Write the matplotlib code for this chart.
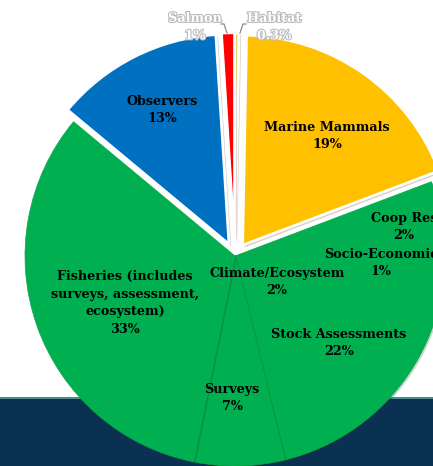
import matplotlib
matplotlib.use("Agg")
import matplotlib.pyplot as plt
import matplotlib.patheffects as pe
from matplotlib.patches import Rectangle

# ---- data ----
categories = ["Habitat", "Marine Mammals", "Coop Res", "Socio-Economic",
              "Climate/Ecosystem", "Stock Assessments", "Surveys",
              "Fisheries (includes\nsurveys, assessment,\necosystem)",
              "Observers", "Salmon"]
values = [0.3, 19, 2, 1, 2, 22, 7, 33, 13, 1]
colors = ["#FFFF00", "#FFC000", "#00B050", "#00B050", "#00B050",
          "#00B050", "#00B050", "#00B050", "#0070C0", "#FF0000"]
pulled_out = [True, True, False, False, False, False, False, False, True, True]

# ---- layout (pixel coordinates, y measured from top) ----
W, H = 433, 466
cx, cy, R = 235, 256, 210
explode_frac = 0.063
label_pos = {
    "Habitat": (274, 27),
    "Marine Mammals": (327, 136),
    "Coop Res": (404, 227),
    "Socio-Economic": (381, 263),
    "Climate/Ecosystem": (277, 282),
    "Stock Assessments": (339, 343),
    "Surveys": (232, 398),
    "Fisheries (includes\nsurveys, assessment,\necosystem)": (125, 303),
    "Observers": (162, 110),
    "Salmon": (195, 27),
}

fig = plt.figure(figsize=(W / 100, H / 100), dpi=100)
ax = fig.add_axes([0, 0, 1, 1])

def py(y):
    return H - y

# navy band at bottom
ax.add_patch(Rectangle((0, 0), W, py(397), facecolor="#0b3152",
                       edgecolor="none", zorder=0))
ax.add_patch(Rectangle((0, py(397) - 1.5), W, 2, facecolor="#4a8c8f",
                       edgecolor="none", zorder=0.5))

explode = [explode_frac * R if p else 0 for p in pulled_out]
wedges, _ = ax.pie(values, colors=colors, explode=explode,
                   startangle=90, counterclock=False,
                   center=(cx, py(cy)), radius=R, frame=True)
for w, p in zip(wedges, pulled_out):
    w.set_zorder(2)
    if p:
        w.set_edgecolor("white")
        w.set_linewidth(2.0)
        w.set_path_effects([pe.SimplePatchShadow(offset=(1.5, -1.5), alpha=0.25),
                            pe.Normal()])
    else:
        w.set_edgecolor("#0aa84a")
        w.set_linewidth(0.5)
        w.set_path_effects([pe.SimplePatchShadow(offset=(1.2, -1.2), alpha=0.2),
                            pe.Normal()])
ax.set_xlim(0, W)
ax.set_ylim(0, H)
ax.set_aspect("equal")
ax.axis("off")

font = dict(family="DejaVu Serif", fontweight="bold", fontsize=9.2,
            ha="center", va="center", linespacing=1.45, zorder=5)
for cat, v in zip(categories, values):
    x, y = label_pos[cat]
    txt = f"{cat}\n{v:g}%"
    if cat in ("Salmon", "Habitat"):
        ax.text(x, py(y), txt, color="white",
                path_effects=[pe.withStroke(linewidth=1.6, foreground="#bdbdbd")],
                **font)
    else:
        ax.text(x, py(y), txt, color="black", **font)

# leader lines for the small slices
ax.plot([221, 224, 227], [py(24), py(24), py(33)], color="#8c8c8c", lw=0.9, zorder=6)
ax.plot([246, 243, 240], [py(24), py(24), py(33)], color="#8c8c8c", lw=0.9, zorder=6)

fig.savefig("out.png", dpi=100, facecolor="white")
